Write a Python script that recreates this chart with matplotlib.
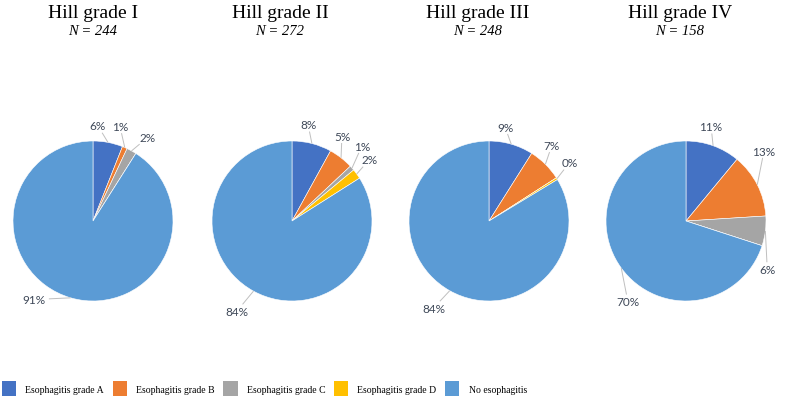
import matplotlib
matplotlib.use("Agg")
import matplotlib.pyplot as plt
import matplotlib.patches as mpatches
import numpy as np

# ---------------- data ----------------
categories = ["Esophagitis grade A", "Esophagitis grade B", "Esophagitis grade C",
              "Esophagitis grade D", "No esophagitis"]
titles = ["Hill grade I", "Hill grade II", "Hill grade III", "Hill grade IV"]
n_values = [244, 272, 248, 158]
pct_hill1 = [6, 1, 2, 0, 91]
pct_hill2 = [8, 5, 1, 2, 84]
pct_hill3 = [9, 7, 0, 0.4, 84]
pct_hill4 = [11, 13, 6, 0, 70]
all_pcts = [pct_hill1, pct_hill2, pct_hill3, pct_hill4]

# ---------------- style / layout ----------------
colors = ["#4472C4", "#ED7D31", "#A5A5A5", "#FFC000", "#5B9BD5"]
pie_cx = [93, 292, 489, 686]
title_cx = [93, 280, 478, 680]
pie_cy = 184
radius = 80
# label angle nudges (deg) and radial distance (x radius), per non-zero slice
label_nudge = [[7.8, 7.5, -4.4, -20.8],
               [4.9, 7.3, 5.6, 2.4, -2.6],
               [6.4, 5.1, 4.0, -3.1],
               [4.9, 14.9, -23.4, 18.1]]
label_dist = [[1.19, 1.23, 1.25, 1.23],
              [1.22, 1.23, 1.28, 1.23, 1.32],
              [1.19, 1.23, 1.24, 1.29],
              [1.22, 1.31, 1.18, 1.24]]
label_color = "#3E4858"
line_color = "#BFBFBF"

fig = plt.figure(figsize=(8.0, 4.06), dpi=100)
ax = fig.add_axes([0, 0, 1, 1])
ax.set_xlim(0, 800)
ax.set_ylim(0, 406)
ax.axis("off")

for k, vals in enumerate(all_pcts):
    cx = pie_cx[k]
    wedges, _ = ax.pie(vals, colors=colors, startangle=90, counterclock=False,
                       center=(cx, pie_cy), radius=radius,
                       wedgeprops=dict(linewidth=0.4, edgecolor="white"),
                       normalize=True)
    ax.set_xlim(0, 800)
    ax.set_ylim(0, 406)
    ax.set_aspect("auto")
    j = 0
    for w, v in zip(wedges, vals):
        if v <= 0:
            continue
        mid = 0.5 * (w.theta1 + w.theta2)
        ang = np.deg2rad(mid + label_nudge[k][j])
        rl = label_dist[k][j] * radius
        lx = cx + rl * np.cos(ang)
        ly = pie_cy + rl * np.sin(ang)
        txt = f"{round(v):d}%"
        ax.text(lx, ly, txt, ha="center", va="center", fontsize=8.5,
                family="Lato", color=label_color)
        # leader line from wedge edge to label box
        ex = cx + radius * np.cos(np.deg2rad(mid))
        ey = pie_cy + radius * np.sin(np.deg2rad(mid))
        dx, dy = ex - lx, ey - ly
        hw = 4.7 * len(txt) + 1
        hh = 6.8
        t = min(hw / abs(dx) if abs(dx) > 1e-6 else 1e9,
                hh / abs(dy) if abs(dy) > 1e-6 else 1e9)
        if t < 0.85:
            sx, sy = lx + dx * t, ly + dy * t
            ax.plot([sx, ex], [sy, ey], color=line_color, lw=0.7,
                    solid_capstyle="butt")
        j += 1

    ax.text(title_cx[k], 388, titles[k], ha="center", va="baseline",
            fontsize=14, family="Liberation Serif", color="black")
    ax.text(title_cx[k], 371, f"N = {n_values[k]}", ha="center", va="baseline",
            fontsize=10.5, family="Liberation Serif", style="italic", color="black")

handles = [mpatches.Patch(facecolor=c, edgecolor="none") for c in colors]
leg = ax.legend(handles, categories, ncol=5, loc="lower left",
                bbox_to_anchor=(2 / 800, 9 / 406), frameon=False,
                prop={"family": "Liberation Serif", "size": 7},
                handlelength=1.45, handleheight=1.95, handletextpad=0.95,
                columnspacing=0.9, borderpad=0, borderaxespad=0)

fig.savefig("out.png", dpi=100)
